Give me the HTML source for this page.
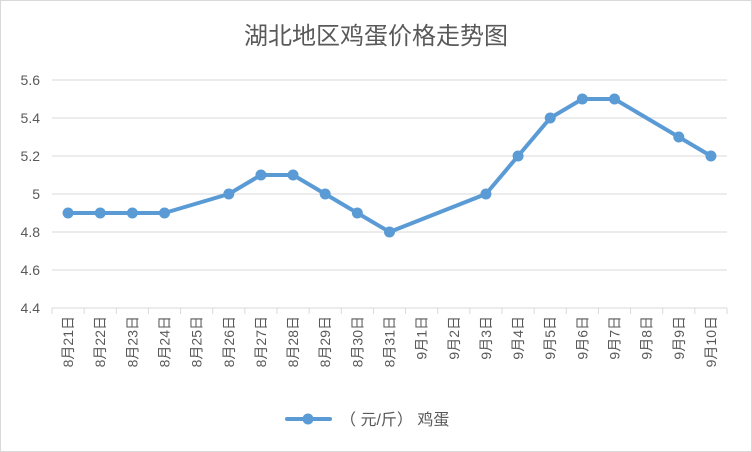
<!DOCTYPE html>
<html><head><meta charset="utf-8"><style>
html,body{margin:0;padding:0;background:#fff;}
svg{display:block;font-family:"Liberation Sans","Noto Sans CJK SC",sans-serif;}
</style></head><body>
<svg id="chart" width="752" height="452" viewBox="0 0 752 452">
<rect x="0.5" y="0.5" width="751" height="451" fill="#fff" stroke="#d9d9d9"/>
<text x="376" y="44" text-anchor="middle" font-size="24" fill="#595959">湖北地区鸡蛋价格走势图</text>
<g id="grid"></g>
<g id="yticks"></g>
<g id="xaxis"></g>
<g id="series"></g>
<g>
<line x1="287" y1="419" x2="330" y2="419" stroke="#5b9bd5" stroke-width="4" stroke-linecap="round"/>
<circle cx="308" cy="419" r="5.5" fill="#5b9bd5"/>
<text x="340" y="425" font-size="16" fill="#595959">（ 元/斤） 鸡蛋</text>
</g>
</svg>
<script>
const categories=["8月21日","8月22日","8月23日","8月24日","8月25日","8月26日","8月27日","8月28日","8月29日","8月30日","8月31日","9月1日","9月2日","9月3日","9月4日","9月5日","9月6日","9月7日","9月8日","9月9日","9月10日"];
const prices=[4.9,4.9,4.9,4.9,null,5.0,5.1,5.1,5.0,4.9,4.8,null,null,5.0,5.2,5.4,5.5,5.5,null,5.3,5.2];
const yTicks=[4.4,4.6,4.8,5,5.2,5.4,5.6];
const yTickLabels=["4.4","4.6","4.8","5","5.2","5.4","5.6"];
const NS="http://www.w3.org/2000/svg";
const plotLeft=52,plotRight=727,plotTop=80,plotBottom=308,yMin=4.4,yMax=5.6;
const band=(plotRight-plotLeft)/categories.length;
function xPos(i){return plotLeft+band*(i+0.5);}
function yPos(v){return plotBottom-(v-yMin)/(yMax-yMin)*(plotBottom-plotTop);}
function mk(tag,attrs,parent){const e=document.createElementNS(NS,tag);for(const k in attrs)e.setAttribute(k,attrs[k]);parent.appendChild(e);return e;}
const grid=document.getElementById('grid'),yt=document.getElementById('yticks'),xa=document.getElementById('xaxis'),ser=document.getElementById('series');
yTicks.forEach((v,i)=>{
 const l=mk('line',{x1:plotLeft,x2:plotRight,y1:yPos(v),y2:yPos(v),stroke:'#d9d9d9','stroke-width':1},grid);
 
 
 const t=mk('text',{x:40,y:yPos(v)+5,'text-anchor':'end','font-size':14,fill:'#595959'},yt);
 t.textContent=yTickLabels[i];
 
 
});
for(let i=0;i<=categories.length;i++){
 const x=plotLeft+band*i;
 const tk=mk('line',{x1:x,x2:x,y1:plotBottom,y2:plotBottom+6,stroke:'#d9d9d9','stroke-width':1},xa);
 
 
}
categories.forEach((c,i)=>{
 const x=xPos(i);
 const t=mk('text',{x:0,y:0,'text-anchor':'end','font-size':14,fill:'#595959',transform:`translate(${x+5},316) rotate(-90)`},xa);
 t.textContent=c;
 
 
});
const pts=[];prices.forEach((v,i)=>{if(v!==null)pts.push([xPos(i),yPos(v)]);});
const path=mk('polyline',{points:pts.map(p=>p.join(',')).join(' '),fill:'none',stroke:'#5b9bd5','stroke-width':4,'stroke-linejoin':'round','stroke-linecap':'round'},ser);


pts.forEach(p=>{
 const c=mk('circle',{cx:p[0],cy:p[1],r:5.5,fill:'#5b9bd5'},ser);
 
 
});
</script>
</body></html>
